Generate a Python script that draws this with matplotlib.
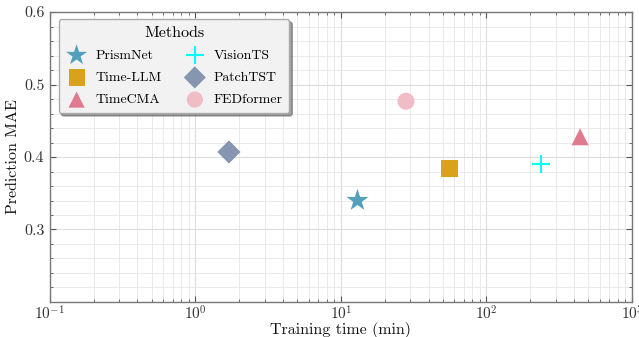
import matplotlib
matplotlib.use("Agg")
import matplotlib.pyplot as plt
from matplotlib.ticker import MultipleLocator, LogLocator, NullFormatter

plt.rcParams['font.family'] = 'serif'
plt.rcParams['font.serif'] = ['cmr10']
plt.rcParams['mathtext.fontset'] = 'cm'
plt.rcParams['axes.unicode_minus'] = False
plt.rcParams['axes.formatter.use_mathtext'] = True

methods = ["PrismNet", "Time-LLM", "TimeCMA", "VisionTS", "PatchTST", "FEDformer"]
train_time = [13.0, 56.0, 440.0, 237.0, 1.7, 28.0]
mae = [0.340, 0.384, 0.428, 0.390, 0.407, 0.477]
colors = ["#549fbc", "#d9a21a", "#e07b8f", "#00ffff", "#8696b0", "#f0bcc6"]
markers = ["*", "s", "^", "+", "D", "o"]
sizes = [280, 150, 150, 180, 140, 150]

fig = plt.figure(figsize=(6.39, 3.37), dpi=100)
ax = fig.add_axes([0.078, 0.104, 0.911, 0.86])

for m, x, y, c, mk, s in zip(methods, train_time, mae, colors, markers, sizes):
    if mk == "+":
        ax.scatter([x], [y], marker=mk, s=s, color=c, linewidths=1.5, label=m, zorder=3)
    else:
        ax.scatter([x], [y], marker=mk, s=s, color=c, edgecolors='none', label=m, zorder=3)

ax.set_xscale('log')
ax.set_xlim(0.1, 1000)
ax.set_ylim(0.2, 0.6)
ax.yaxis.set_minor_locator(MultipleLocator(0.02))
ax.xaxis.set_major_locator(LogLocator(base=10, numticks=10))
ax.xaxis.set_minor_locator(LogLocator(base=10, subs=range(2, 10), numticks=20))
ax.xaxis.set_minor_formatter(NullFormatter())
ax.set_yticks([0.3, 0.4, 0.5, 0.6])
ax.set_yticklabels(["0.3", "0.4", "0.5", "0.6"])

ax.grid(True, which='major', color='#dddddd', linewidth=0.8, zorder=0)
ax.grid(True, which='minor', color='#e6e6e6', linewidth=0.6, zorder=0)
ax.set_axisbelow(True)

ax.tick_params(which='both', direction='in', top=True, right=True, colors='#555555', labelcolor='#333333')
ax.tick_params(which='major', length=4, labelsize=11)
ax.tick_params(axis='x', which='major', pad=1.5)
ax.tick_params(axis='y', which='major', pad=4, labelsize=11.5)
ax.tick_params(which='minor', length=2)
for sp in ax.spines.values():
    sp.set_color('#777777')
    sp.set_linewidth(1.0)

ax.set_xlabel("Training time (min)", fontsize=11.5, labelpad=-0.5, color='#111111')
ax.set_ylabel("Prediction MAE", fontsize=11.5, labelpad=3, color='#111111')

leg = ax.legend(title="Methods", ncol=2, loc='upper left', bbox_to_anchor=(0.003, 1.0),
                fontsize=10, title_fontsize=11.5, frameon=True, fancybox=True, shadow=True,
                markerscale=0.95, columnspacing=1.6, handlelength=1.6, handletextpad=0.55,
                borderpad=0.5, labelspacing=0.68)
leg.get_frame().set_facecolor('#f2f2f2')
leg.get_frame().set_edgecolor('#aaaaaa')
leg.get_frame().set_alpha(1.0)

fig.savefig("out.png", dpi=100)
